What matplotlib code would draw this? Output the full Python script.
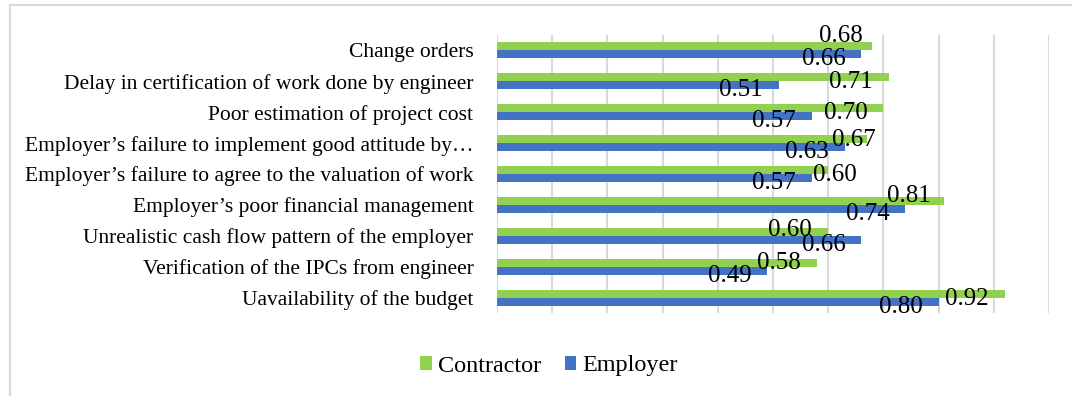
import matplotlib.pyplot as plt
import numpy as np
from matplotlib.lines import Line2D

# categories listed top to bottom as in the chart
categories = [
    "Change orders",
    "Delay in certification of work done by engineer",
    "Poor estimation of project cost",
    "Employer\u2019s failure to implement good attitude by\u2026",
    "Employer\u2019s failure to agree to the valuation of work",
    "Employer\u2019s poor financial management",
    "Unrealistic cash flow pattern of the employer",
    "Verification of the IPCs from engineer",
    "Uavailability of the budget",
]
contractor = [0.68, 0.71, 0.70, 0.67, 0.60, 0.81, 0.60, 0.58, 0.92]
employer = [0.66, 0.51, 0.57, 0.63, 0.57, 0.74, 0.66, 0.49, 0.80]

green = "#92D050"
blue = "#4472C4"
grid_c = "#D9D9D9"

plt.rcParams["font.family"] = ["Liberation Serif", "DejaVu Serif"]

fig = plt.figure(figsize=(10.72, 3.96), dpi=100)
ax = fig.add_axes([497 / 1072, 1 - 313 / 396, (1049 - 497) / 1072, 278 / 396])

y = np.arange(len(categories))
h = 0.26
ax.barh(y - h / 2, contractor, height=h, color=green, label="Contractor", zorder=3)
ax.barh(y + h / 2, employer, height=h, color=blue, label="Employer", zorder=3)

# label nudges in pixels (dx right, dy up), like the label shuffling in the source
nudge_c = {0: (6, 15), 3: (25, 4), 4: (45, 0), 5: (3, 10), 6: (0, 7), 7: (0, 5)}

px = 0.72  # pixels -> points at 100 dpi
for i in range(len(categories)):
    dx, dy = nudge_c.get(i, (0, 0))
    ax.annotate("%.2f" % contractor[i], (contractor[i], y[i] - h / 2),
                xytext=((-16 + dx) * px, (-5 + dy) * px), textcoords="offset points",
                ha="right", va="center", fontsize=18, zorder=4)
    ax.annotate("%.2f" % employer[i], (employer[i], y[i] + h / 2),
                xytext=(-16 * px, -5 * px), textcoords="offset points",
                ha="right", va="center", fontsize=18, zorder=4)

ax.set_xlim(0, 1.0)
ax.set_ylim(len(categories) - 0.5, -0.5)
ax.set_xticks(np.arange(0, 1.01, 0.1))
ax.set_xticklabels([])
ax.tick_params(axis="x", length=0)
ax.set_yticks(y)
ax.set_yticklabels(categories, fontsize=15.5)
ax.tick_params(axis="y", length=0, pad=17)
ax.grid(axis="x", color=grid_c, linewidth=1.5, zorder=0)
for s in ax.spines.values():
    s.set_visible(False)

# outer chart frame (only top and left visible in the crop)
fig.add_artist(Line2D([10 / 1072, 10 / 1072], [0, 1 - 5 / 396], color=grid_c,
                      linewidth=1.5, transform=fig.transFigure))
fig.add_artist(Line2D([10 / 1072, 1], [1 - 5 / 396, 1 - 5 / 396], color=grid_c,
                      linewidth=1.5, transform=fig.transFigure))

fig.legend(loc="center", bbox_to_anchor=(549 / 1072, 1 - 366 / 396), ncol=2,
           frameon=False, fontsize=17.4, handlelength=0.47, handleheight=0.47,
           handletextpad=0.25, columnspacing=1.0)

fig.savefig("out.png", dpi=100)
